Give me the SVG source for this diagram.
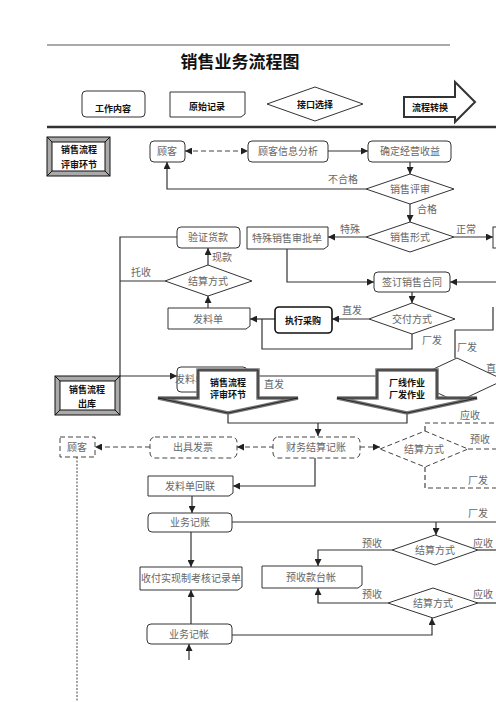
<svg xmlns="http://www.w3.org/2000/svg" width="496" height="702" viewBox="0 0 496 702">
<style>
.n{fill:#fff;stroke:#333;stroke-width:1}
.d{fill:#fff;stroke:#444;stroke-width:1;stroke-dasharray:5,3}
.t{font-family:"Noto Sans CJK SC","Liberation Serif",serif;font-size:10px;fill:#666;text-anchor:middle}
.b{font-family:"Noto Sans CJK SC","Liberation Sans",sans-serif;font-size:9px;font-weight:bold;fill:#111;text-anchor:middle}
.l{fill:none;stroke:#333;stroke-width:1.2}
.ld{fill:none;stroke:#444;stroke-width:1.2;stroke-dasharray:5,3}
</style>
<defs>
<marker id="a" viewBox="0 0 10 10" refX="10" refY="5" markerWidth="7" markerHeight="7" markerUnits="userSpaceOnUse" orient="auto-start-reverse"><path d="M0,0 L10,5 L0,10 Z" fill="#222"/></marker>
</defs>
<rect width="496" height="702" fill="#fff"/>
<line x1="47" y1="45" x2="450" y2="45" stroke="#555" stroke-width="1"/>
<text x="240" y="68" style="font-family:'Noto Sans CJK SC',sans-serif;font-size:17px;font-weight:bold;fill:#111;text-anchor:middle">销售业务流程图</text>
<g id="legend">
<rect x="82" y="91" width="63" height="26" rx="4" class="n"/>
<text x="113" y="112" class="b">工作内容</text>
<path d="M170,92 H245 V114 L241,117 H170 Z" class="n"/>
<text x="207" y="110" class="b">原始记录</text>
<polygon points="267,104 315,87 363,104 315,121" class="n"/>
<text x="315" y="108" class="b">接口选择</text>
<path d="M404,97 H455 V82 L475,102 L455,122 V117 H404 Z" fill="#fff" stroke="#333" stroke-width="2"/>
<text x="430" y="111" class="b">流程转换</text>
</g>
<line x1="47" y1="127" x2="496" y2="127" stroke="#333" stroke-width="2.5"/>

<g id="connectors">
<path d="M185,151 H248" class="ld" marker-start="url(#a)" marker-end="url(#a)"/>
<path d="M328,151 H368" class="l" marker-end="url(#a)"/>
<path d="M410,162 V174" class="l" marker-end="url(#a)"/>
<path d="M366,189 H167 V162" class="l" marker-end="url(#a)"/>
<path d="M410,204 V222" class="l" marker-end="url(#a)"/>
<path d="M366,237 H328" class="l" marker-end="url(#a)"/>
<path d="M454,237 H493" class="l" marker-end="url(#a)"/>
<path d="M208,265 V248" class="l" marker-end="url(#a)"/>
<path d="M165,281 H120" class="l"/>
<path d="M177,237 H120 V376 H177" class="l" marker-end="url(#a)"/>
<path d="M208,308 V296" class="l" marker-end="url(#a)"/>
<path d="M287,249 V282 H374" class="l" marker-end="url(#a)"/>
<path d="M496,282 H450" class="l" marker-end="url(#a)"/>
<path d="M412,292 V303" class="l" marker-end="url(#a)"/>
<path d="M369,319 H332" class="l" marker-end="url(#a)"/>
<path d="M275,319 H250" class="l" marker-end="url(#a)"/>
<path d="M412,334 V349 H262 V319" class="l"/>
<path d="M493,307 V330 H455 V358" class="l"/>
<path d="M228,413 V423 H407 V412" class="l"/>
<path d="M318,423 V436" class="l" marker-end="url(#a)"/>
<path d="M274,447 H237" class="ld" marker-end="url(#a)"/>
<path d="M150,447 H95" class="ld" marker-end="url(#a)"/>
<path d="M360,447 H380" class="ld" marker-end="url(#a)"/>
<path d="M425,431 V423 H496" class="ld"/>
<path d="M468,449 H496" class="ld"/>
<path d="M425,467 V488 H496" class="ld"/>
<path d="M77,457 V702" fill="none" stroke="#444" stroke-width="1" stroke-dasharray="2,1.5"/>
<path d="M315,458 V486 H233" class="l" marker-end="url(#a)"/>
<path d="M192,496 V513" class="l" marker-end="url(#a)"/>
<path d="M232,522 H496" class="l"/>
<path d="M436,522 V535" class="l" marker-end="url(#a)"/>
<path d="M191,532 V567" class="l" marker-end="url(#a)"/>
<path d="M392,550 H318 V566" class="l" marker-end="url(#a)"/>
<path d="M478,550 H496" class="l"/>
<path d="M388,603 H318 V588" class="l" marker-end="url(#a)"/>
<path d="M478,603 H496" class="l"/>
<path d="M232,635 H432 V618" class="l" marker-end="url(#a)"/>
<path d="M191,624 V590" class="l" marker-end="url(#a)"/>
<path d="M189,660 V644" class="l" marker-end="url(#a)"/>
</g>

<g id="labels">
<text x="343" y="183" class="t">不合格</text>
<text x="427" y="213" class="t">合格</text>
<text x="350" y="233" class="t">特殊</text>
<text x="466" y="233" class="t">正常</text>
<text x="222" y="261" class="t">现款</text>
<text x="141" y="276" class="t">托收</text>
<text x="352" y="314" class="t">直发</text>
<text x="432" y="344" class="t">厂发</text>
<text x="467" y="351" class="t">厂发</text>
<text x="491" y="372" class="t">直</text>
<text x="274" y="388" class="t">直发</text>
<text x="456" y="388" class="t">厂发</text>
<text x="470" y="419" class="t">应收</text>
<text x="480" y="443" class="t">预收</text>
<text x="478" y="484" class="t">厂发</text>
<text x="478" y="517" class="t">厂发</text>
<text x="372" y="547" class="t">预收</text>
<text x="483" y="547" class="t">应收</text>
<text x="372" y="598" class="t">预收</text>
<text x="483" y="598" class="t">应收</text>
</g>

<g id="bevel1">
<rect x="47" y="137" width="63" height="39" fill="#aaa" stroke="#111"/>
<rect x="52" y="142" width="53" height="29" fill="#fff" stroke="#111"/>
<path d="M47,137 L52,142 M110,137 L105,142 M47,176 L52,171 M110,176 L105,171" stroke="#111"/>
<text x="79" y="153" class="b">销售流程</text>
<text x="79" y="168" class="b">评审环节</text>
</g>
<g id="bevel2">
<rect x="55" y="376" width="65" height="39" fill="#aaa" stroke="#111"/>
<rect x="60" y="381" width="55" height="29" fill="#fff" stroke="#111"/>
<path d="M55,376 L60,381 M120,376 L115,381 M55,415 L60,410 M120,415 L115,410" stroke="#111"/>
<text x="87" y="393" class="b">销售流程</text>
<text x="87" y="407" class="b">出库</text>
</g>

<g id="n-guke"><rect x="150" y="141" width="35" height="21" rx="4" class="n"/><text x="167" y="155" class="t">顾客</text></g>
<g id="n-xxfx"><rect x="248" y="141" width="80" height="21" rx="4" class="n"/><text x="288" y="155" class="t">顾客信息分析</text></g>
<g id="n-qdjy"><rect x="368" y="141" width="83" height="21" rx="4" class="n"/><text x="410" y="155" class="t">确定经营收益</text></g>
<g id="n-xsps"><polygon points="366,189 410,174 454,189 410,204" class="n"/><text x="410" y="193" class="t">销售评审</text></g>
<g id="n-xsxs"><polygon points="366,237 410,222 454,237 410,252" class="n"/><text x="410" y="241" class="t">销售形式</text></g>
<g id="n-zc"><rect x="493" y="227" width="10" height="21" class="n"/></g>
<g id="n-tssp"><path d="M247,227 H328 V246 L324,249 H247 Z" class="n"/><text x="287" y="242" class="t">特殊销售审批单</text></g>
<g id="n-yzhk"><rect x="177" y="227" width="63" height="21" rx="4" class="n"/><text x="208" y="241" class="t">验证货款</text></g>
<g id="n-jsfs1"><polygon points="165,281 208,265 252,281 208,296" class="n"/><text x="208" y="285" class="t">结算方式</text></g>
<g id="n-fld1"><path d="M168,308 H250 V326 L246,329 H168 Z" class="n"/><text x="208" y="323" class="t">发料单</text></g>
<g id="n-qdht"><rect x="374" y="272" width="76" height="20" rx="4" class="n"/><text x="412" y="286" class="t">签订销售合同</text></g>
<g id="n-jffs"><polygon points="369,319 412,303 455,319 412,334" class="n"/><text x="412" y="323" class="t">交付方式</text></g>
<g id="n-zxcg"><rect x="275" y="307" width="57" height="26" rx="4" fill="#fff" stroke="#111" stroke-width="1.6"/><text x="303" y="324" class="b">执行采购</text></g>
<g id="n-dia-r"><polygon points="410,380 457,358 504,380 457,402" class="n"/></g>
<g id="n-fld2"><rect x="177" y="367" width="70" height="25" rx="4" class="n"/><text x="190" y="383" class="t">发料单</text></g>
<g id="conn-zf"><path d="M258,376 H405" class="l" marker-end="url(#a)"/></g>
<g id="n-flow1">
<path d="M198,370 H258 V398 H298 L228,413 L158,398 H198 Z" fill="#fff" stroke="#777" stroke-width="3.5"/>
<path d="M198,370 H258 V398 H298 L228,413 L158,398 H198 Z" fill="none" stroke="#111" stroke-width="0.8"/>
<text x="228" y="386" class="b">销售流程</text>
<text x="228" y="398" class="b">评审环节</text>
</g>
<g id="n-flow2">
<path d="M377,370 H437 V398 H477 L407,413 L337,398 H377 Z" fill="#fff" stroke="#777" stroke-width="3.5"/>
<path d="M377,370 H437 V398 H477 L407,413 L337,398 H377 Z" fill="none" stroke="#111" stroke-width="0.8"/>
<text x="407" y="386" class="b">厂线作业</text>
<text x="407" y="398" class="b">厂发作业</text>
</g>
<g id="n-guke2"><rect x="60" y="437" width="35" height="20" class="d"/><text x="77" y="451" class="t">顾客</text></g>
<g id="n-cjfp"><rect x="150" y="437" width="87" height="21" rx="5" class="d"/><text x="193" y="451" class="t">出具发票</text></g>
<g id="n-cwjs"><rect x="273" y="437" width="87" height="21" rx="5" class="d"/><text x="316" y="451" class="t">财务结算记账</text></g>
<g id="n-jsfs2"><polygon points="380,449 425,431 468,449 425,467" class="d"/><text x="424" y="453" class="t">结算方式</text></g>
<g id="n-fldhl"><path d="M148,476 H233 V493 L229,496 H148 Z" class="n"/><text x="190" y="490" class="t">发料单回联</text></g>
<g id="n-ywjz1"><rect x="148" y="513" width="84" height="19" rx="4" class="n"/><text x="190" y="526" class="t">业务记账</text></g>
<g id="n-jsfs3"><polygon points="392,550 435,535 478,550 435,565" class="n"/><text x="435" y="554" class="t">结算方式</text></g>
<g id="n-sfsx"><path d="M140,567 H242 V587 L238,590 H140 Z" class="n"/><text x="191" y="582" class="t">收付实现制考核记录单</text></g>
<g id="n-yskt"><path d="M262,566 H362 V585 L358,588 H262 Z" class="n"/><text x="311" y="581" class="t">预收款台帐</text></g>
<g id="n-jsfs4"><polygon points="388,603 433,588 478,603 433,618" class="n"/><text x="433" y="607" class="t">结算方式</text></g>
<g id="n-ywjz2"><rect x="147" y="624" width="85" height="20" rx="4" class="n"/><text x="189" y="638" class="t">业务记帐</text></g>
</svg>
